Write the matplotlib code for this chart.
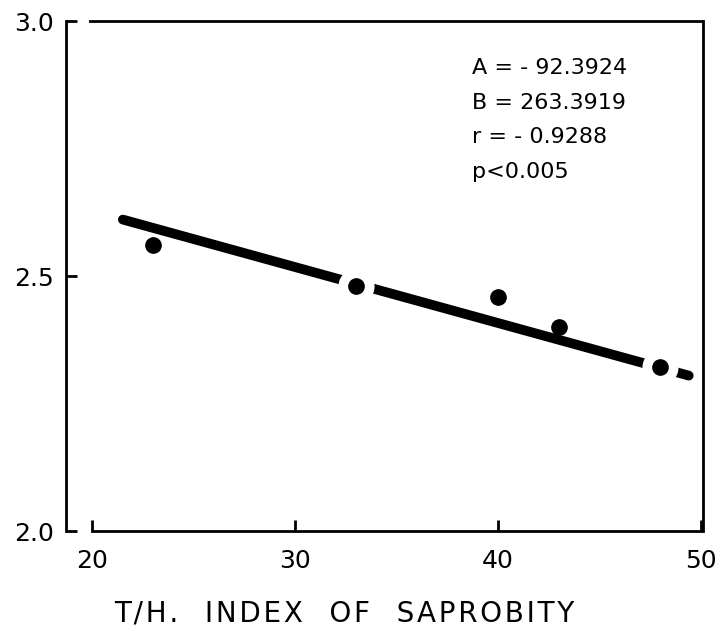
import matplotlib.pyplot as plt

# T/H index vs value
th_index = [23, 33, 40, 43, 48]
values = [2.562, 2.481, 2.460, 2.401, 2.321]

# fitted line (x = A*y + B), end points as drawn
line_x = [21.5, 49.4]
line_y = [2.611, 2.305]

stats_text = ['A = - 92.3924', 'B = 263.3919', 'r = - 0.9288', 'p<0.005']
gap_idx = [1, 4]  # points that sit on the line

plt.rcParams['font.family'] = ['DejaVu Sans']

fig = plt.figure(figsize=(7.18, 6.43), dpi=100)
ax = fig.add_axes([0.092, 0.174, 0.887, 0.793])

ax.plot(line_x, line_y, color='black', linewidth=7, solid_capstyle='round', zorder=2)
ax.plot([th_index[i] for i in gap_idx], [values[i] for i in gap_idx], 'o',
        color='white', markersize=25, zorder=3)
ax.plot(th_index, values, 'o', color='black', markersize=11, zorder=4)

ax.set_xlim(18.7, 50.1)
ax.set_ylim(2.0, 3.0)
ax.set_xticks([20, 30, 40, 50])
ax.set_yticks([2.0, 2.5, 3.0])
ax.set_yticklabels(['2.0', '2.5', '3.0'])

ax.spines['bottom'].set_bounds(20, 50)
ax.spines['top'].set_bounds(19.9, 50)
for s in ax.spines.values():
    s.set_linewidth(2)

ax.tick_params(direction='in', length=8, width=2, labelsize=18, pad=13)
ax.tick_params(axis='y', pad=9)

hs = '\u200a'
label = '   '.join(hs.join(w) for w in ['T/H.', 'INDEX', 'OF', 'SAPROBITY'])
fig.text(344 / 718, 1 - 614 / 643, label, fontsize=20, ha='center', va='center')

for k, t in enumerate(stats_text):
    ax.text(38.7, 2.909 - k * 0.0685, t, fontsize=16, va='center', ha='left')

fig.savefig('out.png', dpi=100)
